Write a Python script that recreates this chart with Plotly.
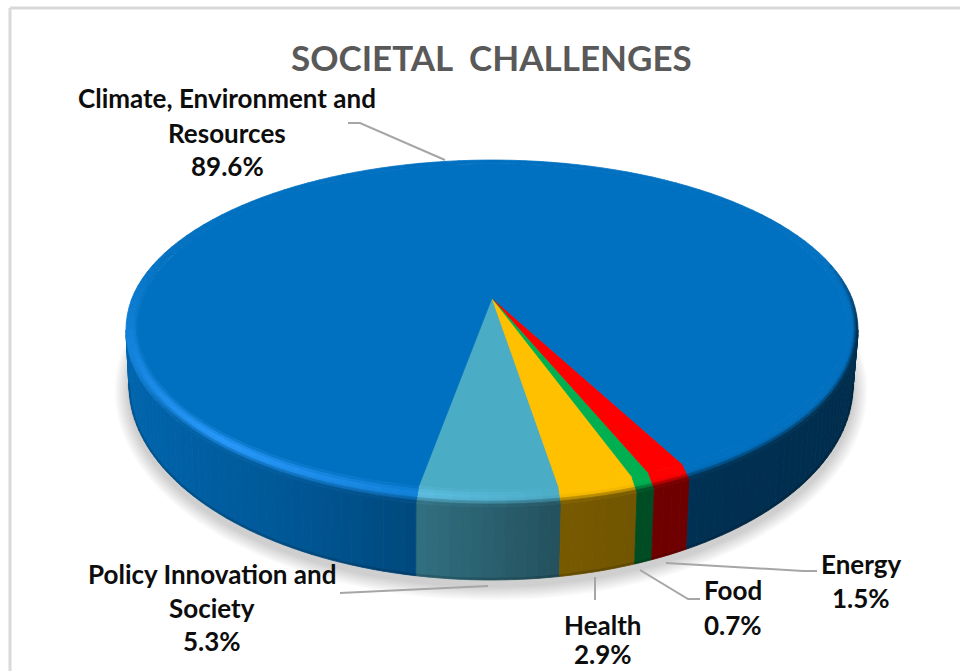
import math
import numpy as np
import plotly.graph_objects as go

# Shares of funding by societal challenge, in drawing order around the pie
categories = ["Policy Innovation and Society", "Health", "Food", "Energy",
              "Climate, Environment and Resources"]
shares = [5.3, 2.9, 0.7, 1.5, 89.6]
base_colors = [(75, 172, 198), (255, 192, 0), (0, 176, 80), (255, 0, 0), (0, 112, 192)]
title_text = "SOCIETAL  CHALLENGES"
label_lines = [
    (["Climate, Environment and", "Resources", "89.6%"], 227, [98, 133, 166]),
    (["Policy Innovation and", "Society", "5.3%"], 212, [574, 608, 641]),
    (["Health", "2.9%"], 603, [625, 654]),
    (["Food", "0.7%"], 733, [590, 625]),
    (["Energy", "1.5%"], 861, [564, 598]),
]
leaders = [
    ([348, 360, 445], [123, 123, 160]),
    ([340, 488], [593, 586]),
    ([595, 595], [577, 600]),
    ([640, 688, 700], [570, 599, 599]),
    ([666, 803, 817], [563, 571, 571]),
]

# Perspective camera for the top disc and ellipse of the lower rim
CX, APEX_Y, RADIUS_X, RADIUS_Y, TILT = 492.0, 298.0, 360.0, 109.0, 0.181
INNER_R, BEVEL_DROP = 0.97, 10.0
LOWER_CX, LOWER_CY, LOWER_A, LOWER_B = 491.0, 385.0, 362.0, 195.0
START_ANGLE = -10.0
BEVEL_BANDS = 6
SILHOUETTE = 79.6

# Side wall darkening as a function of horizontal position
SHADE_X = [128, 300, 416, 560, 640, 860]
SHADE_K = [0.90, 0.77, 0.65, 0.47, 0.44, 0.40]


def disc_point(r, deg):
    th = np.radians(deg)
    u, v = r * np.sin(th), r * np.cos(th)
    w = 1 - TILT * v
    return CX + RADIUS_X * u / w, (APEX_Y + RADIUS_Y * v) / w


def outer_point(deg):
    x, y = disc_point(1.0, deg)
    return x, y + BEVEL_DROP * np.maximum(np.cos(np.radians(deg)), 0)


def lower_point(deg):
    xt, _ = disc_point(1.0, deg)
    x = LOWER_CX + (xt - CX) * 0.99
    q = np.clip(1 - ((x - LOWER_CX) / LOWER_A) ** 2, 0, 1)
    return x, LOWER_CY + LOWER_B * np.sqrt(q)


def wrap(deg):
    return (deg + 180) % 360 - 180


def rgb(c):
    return "rgb(%d,%d,%d)" % tuple(int(round(min(max(k, 0), 255))) for k in c)


def shaded(base, x):
    k = float(np.interp(x, SHADE_X, SHADE_K))
    return [b * k for b in base]


def smooth(t):
    t = min(max(t, 0.0), 1.0)
    return t * t * (3 - 2 * t)


def bevel_color(base, t, deg):
    d = wrap(deg)
    glow = float(np.interp(d, [-105, -80, -40, -10, 10], [0, 0.35, 1, 0.45, 0]))
    dark = float(np.interp(d, [-75, -50, 80, 105], [0, 1, 1, 0]))
    p = math.sin(math.pi * min(t, 0.5)) * glow
    lit = [base[0] + 40 * p, base[1] + 42 * p, base[2] + 62 * p]
    x, _ = disc_point(1.0, deg)
    side = shaded(base, float(x))
    m = smooth((t - 0.5) / 0.5) * dark
    return [l * (1 - m) + s * m for l, s in zip(lit, side)]


def poly(xs, ys, color, name=None):
    return go.Scatter(x=list(xs), y=list(ys), mode="lines", fill="toself",
                      fillcolor=color, line=dict(color=color, width=0.8),
                      hoverinfo="skip" if name is None else "name",
                      name=name or "", showlegend=False)


fig = go.Figure()

# Soft ground shadow below the pie
for i in range(12):
    grow = 14 - i * 1.2
    ang = np.radians(np.arange(0, 361, 3))
    fig.add_trace(poly(LOWER_CX + (LOWER_A + grow) * np.sin(ang),
                       LOWER_CY + 6 + (LOWER_B + grow) * np.cos(ang),
                       "rgba(0,0,0,0.015)"))

# Slice angular spans from the shares
spans = []
a0 = START_ANGLE
for s in shares:
    a1 = a0 + s / sum(shares) * 360
    spans.append((a0, a1))
    a0 = a1

# Side wall
for (a0, a1), base in zip(spans, base_colors):
    lo, hi = max(a0, -SILHOUETTE), min(a1, SILHOUETTE)
    if a1 > 180:
        parts = [(a0, SILHOUETTE), (360 - SILHOUETTE, a1)]
    else:
        parts = [(lo, hi)]
    for p0, p1 in parts:
        n = max(1, int(math.ceil((p1 - p0) / 1.5)))
        edges = np.linspace(p0, p1, n + 1)
        for e0, e1 in zip(edges[:-1], edges[1:]):
            fine = np.linspace(e0, e1, 3)
            xt, yt = outer_point(fine)
            xb, yb = lower_point(fine)
            col = rgb(shaded(base, float(xt.mean())))
            fig.add_trace(poly(np.r_[xt, xb[::-1], xt[0]], np.r_[yt, yb[::-1], yt[0]], col))

# Darker lip along the bottom edge of the wall
lip = np.linspace(-SILHOUETTE, SILHOUETTE, 160)
lx, ly = lower_point(lip)
fig.add_trace(go.Scatter(x=lx, y=ly - 1, mode="lines", hoverinfo="skip", showlegend=False,
                         line=dict(color="rgba(0,0,0,0.15)", width=2.5)))

# Flat top of each slice
for (a0, a1), base, cat in zip(spans, base_colors, categories):
    arc = np.linspace(a0, a1, max(3, int((a1 - a0) * 2)))
    xr, yr = disc_point(INNER_R, arc)
    fig.add_trace(poly(np.r_[CX, xr, CX], np.r_[APEX_Y, yr, APEX_Y], rgb(base), cat))

# Rounded bevel ring around the rim
for (a0, a1), base in zip(spans, base_colors):
    n = max(1, int(math.ceil((a1 - a0) / 2.5)))
    edges = np.linspace(a0, a1, n + 1)
    for e0, e1 in zip(edges[:-1], edges[1:]):
        mid = (e0 + e1) / 2
        fine = np.linspace(e0, e1, 3)
        xi, yi = disc_point(INNER_R, fine)
        xo, yo = outer_point(fine)
        back = abs(wrap(mid)) > 125
        bands = 1 if back else BEVEL_BANDS
        for b in range(bands):
            t0, t1 = b / bands, (b + 1) / bands
            x0, y0 = xi + (xo - xi) * t0, yi + (yo - yi) * t0
            x1, y1 = xi + (xo - xi) * t1, yi + (yo - yi) * t1
            col = rgb(bevel_color(base, (t0 + t1) / 2, mid))
            fig.add_trace(poly(np.r_[x0, x1[::-1], x0[0]], np.r_[y0, y1[::-1], y0[0]], col))

# Leader lines
for lx, ly in leaders:
    fig.add_trace(go.Scatter(x=lx, y=ly, mode="lines", hoverinfo="skip", showlegend=False,
                             line=dict(color="#A6A6A6", width=2)))

annotations = [dict(x=491, y=57, xref="x", yref="y", text="<b>%s</b>" % title_text,
                    showarrow=False, font=dict(family="Lato", size=35, color="#595959"))]
for lines, cx, ys in label_lines:
    for line, y in zip(lines, ys):
        annotations.append(dict(x=cx, y=y, xref="x", yref="y", text="<b>%s</b>" % line,
                                showarrow=False,
                                font=dict(family="Lato", size=26, color="#0D0D0D")))

# Chart area outline, visible along the top and left
frame = [
    dict(type="line", xref="x", yref="y", x0=10, x1=10, y0=8, y1=671,
         line=dict(color="#D9D9D9", width=3)),
    dict(type="line", xref="x", yref="y", x0=10, x1=960, y0=8, y1=8,
         line=dict(color="#D9D9D9", width=3)),
]

fig.update_layout(
    width=960, height=671, margin=dict(l=0, r=0, t=0, b=0),
    paper_bgcolor="white", plot_bgcolor="white", showlegend=False,
    xaxis=dict(range=[0, 960], visible=False, fixedrange=True),
    yaxis=dict(range=[671, 0], visible=False, fixedrange=True),
    annotations=annotations, shapes=frame,
)
fig.write_html("out.html")
